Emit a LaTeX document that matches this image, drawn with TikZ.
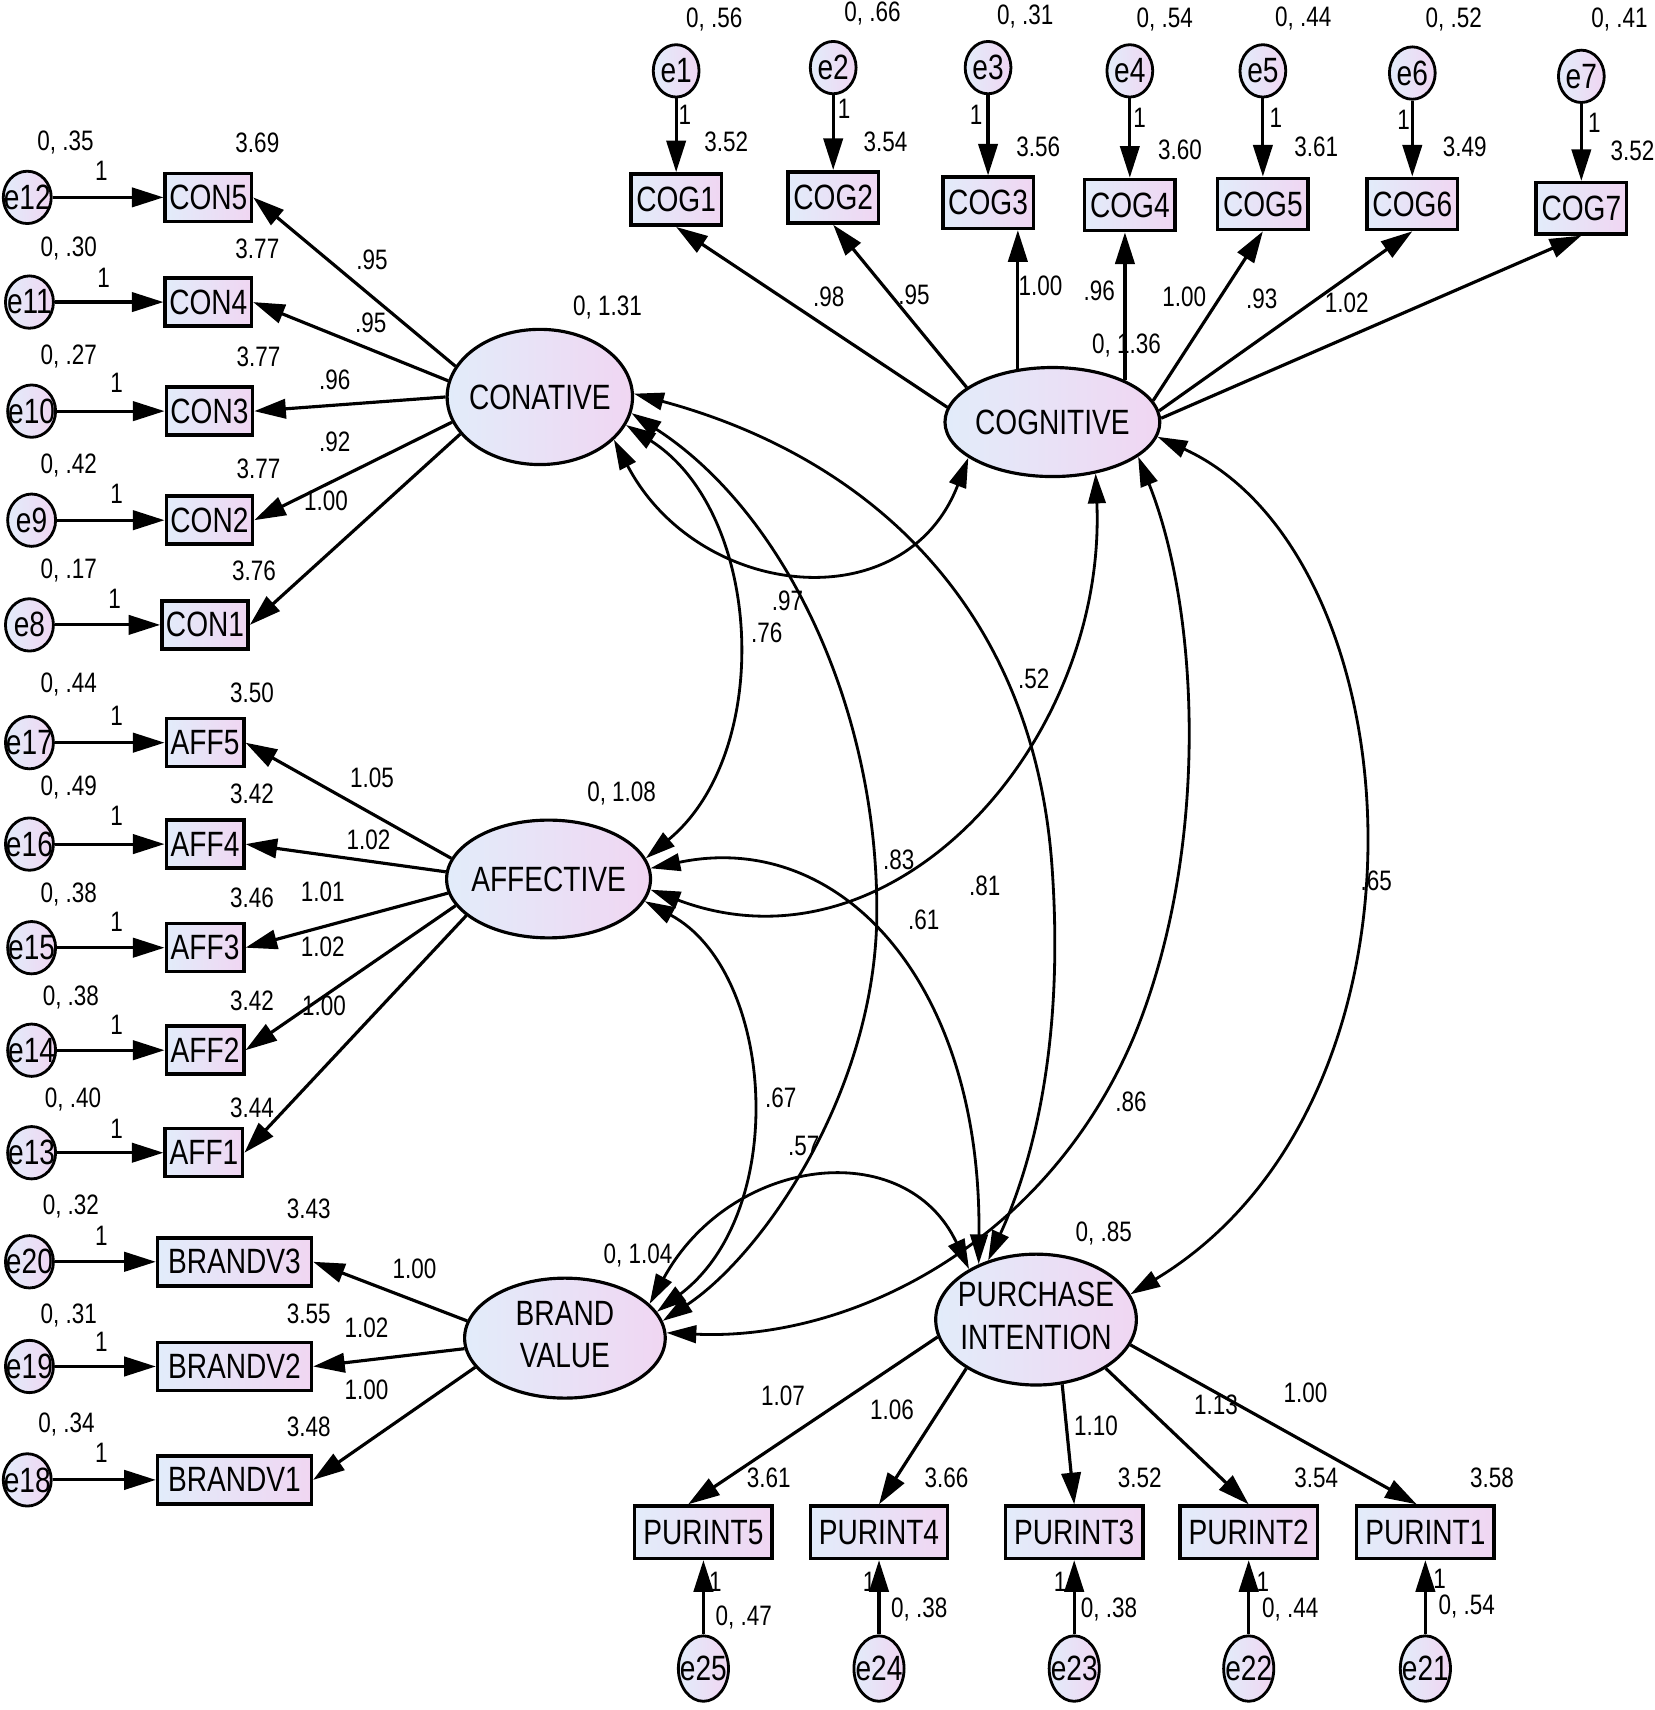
\documentclass[tikz,border=0pt]{standalone}
\usepackage{fontspec}
\setmainfont{Liberation Sans}[FakeStretch=0.8]
\usetikzlibrary{arrows.meta,shapes.geometric}
\definecolor{fillL}{RGB}{226,236,250}
\definecolor{fillR}{RGB}{240,214,242}
\newcommand\pxu{0.010903cm}
\newcounter{lc}
\newcommand\lbl[2]{\stepcounter{lc}\node[num] (L\number\value{lc}) at (#1) {#2};}
\begin{document}
\begin{tikzpicture}[x=0.010903cm,y=-0.010903cm,
  obs/.style={draw, line width=1pt, rectangle, left color=fillL, right color=fillR, inner sep=0pt, font=\fontsize{10}{12}\selectfont},
  err/.style={draw, line width=0.8pt, ellipse, left color=fillL, right color=fillR, inner sep=0pt, font=\fontsize{10}{12}\selectfont},
  lat/.style={draw, line width=0.9pt, ellipse, left color=fillL, right color=fillR, inner sep=0pt, font=\fontsize{10}{12}\selectfont},
  num/.style={font=\fontsize{8}{9.6}\selectfont, inner sep=0pt},
  ld/.style={line width=0.9pt, -{Triangle[length=9pt,width=5.5pt]}},
  ea/.style={line width=0.9pt, -{Triangle[length=9pt,width=5.5pt]}},
  cv/.style={line width=0.8pt, {Triangle[length=8.5pt,width=5pt]}-{Triangle[length=8.5pt,width=5pt]}}
]
\useasboundingbox (0,0) rectangle (1517,1568);

% latent variables
\node[lat, minimum width=170*\pxu, minimum height=124*\pxu] (CON) at (495,364) {\makebox[0pt]{CONATIVE}};
\node[lat, minimum width=197*\pxu, minimum height=100*\pxu] (COG) at (965,387) {\makebox[0pt]{COGNITIVE}};
\node[lat, minimum width=187*\pxu, minimum height=108*\pxu] (AFF) at (503,806) {\makebox[0pt]{AFFECTIVE}};
\node[lat, minimum width=184*\pxu, minimum height=110*\pxu] (BV) at (518,1227) {\makebox[0pt]{\begin{tabular}{@{}c@{}}BRAND\\VALUE\end{tabular}}};
\node[lat, minimum width=184*\pxu, minimum height=120*\pxu] (PI) at (950,1210) {\makebox[0pt]{\begin{tabular}{@{}c@{}}PURCHASE\\INTENTION\end{tabular}}};

% conative indicators
\foreach \b/\e/\ex/\bx/\y/\a in {5/12/25/191/181/160, 4/11/27/191/277/170, 3/10/29/192/377/180, 2/9/29/192/477/196, 1/8/27/188/573/205}{
  \node[err, minimum width=44*\pxu, minimum height=48*\pxu] (e\e) at (\ex,\y) {\makebox[0pt]{e\e}};
  \node[obs, minimum width=79*\pxu, minimum height=44*\pxu] (CON\b) at (\bx,\y) {CON\b};
  \draw[ea] (e\e) -- (CON\b);
  \draw[ld] (CON.\a) -- (CON\b.east);
}
% affective indicators
\foreach \b/\e/\ex/\bx/\y/\a in {5/17/27/188/681/168, 4/16/27/188/774/176, 3/15/29/188/869/188, 2/14/29/188/963/196, 1/13/29/187/1057/204}{
  \node[err, minimum width=44*\pxu, minimum height=48*\pxu] (e\e) at (\ex,\y) {\makebox[0pt]{e\e}};
  \node[obs, minimum width=71*\pxu, minimum height=44*\pxu] (AFF\b) at (\bx,\y) {AFF\b};
  \draw[ea] (e\e) -- (AFF\b);
  \draw[ld] (AFF.\a) -- (AFF\b.east);
}
% brand value indicators
\foreach \b/\e/\ex/\y/\a in {3/20/27/1157/170, 2/19/27/1253/186, 1/18/25/1357/198}{
  \node[err, minimum width=44*\pxu, minimum height=48*\pxu] (e\e) at (\ex,\y) {\makebox[0pt]{e\e}};
  \node[obs, minimum width=141*\pxu, minimum height=44*\pxu] (BV\b) at (215,\y) {BRANDV\b};
  \draw[ea] (e\e) -- (BV\b);
  \draw[ld] (BV.\a) -- (BV\b.east);
}
% cognitive indicators
\foreach \i/\x/\ey/\by in {1/620/65/183, 2/764/62/181, 3/906/62/186, 4/1036/65/188, 5/1158/65/187, 6/1295/67/187, 7/1450/70/191}{
  \node[err, minimum width=42*\pxu, minimum height=48*\pxu] (e\i) at (\x,\ey) {\makebox[0pt]{e\i}};
  \node[obs, minimum width=83*\pxu, minimum height=47*\pxu] (COG\i) at (\x,\by) {COG\i};
  \draw[ea] (e\i) -- (COG\i);
}
\draw[ld] (COG.172) -- (COG1.south);
\draw[ld] (COG.158) -- (COG2.south);
\draw[ld] (COG.123) -- (COG.123 |- COG3.south);
\draw[ld] (COG.30) -- (COG.30 |- COG4.south);
\draw[ld] (COG.12) -- (COG5.south);
\draw[ld] (COG.6) -- (COG6.south);
\draw[ld] (COG.2) -- (COG7.south);

% purchase intention indicators
\foreach \i/\e/\x in {5/25/645, 4/24/806, 3/23/985, 2/22/1145, 1/21/1307}{
  \node[obs, minimum width=126*\pxu, minimum height=48*\pxu] (PUR\i) at (\x,1405) {PURINT\i};
  \node[err, minimum width=46*\pxu, minimum height=60*\pxu] (e\e) at (\x,1530) {\makebox[0pt]{e\e}};
  \draw[ea] (e\e) -- (PUR\i);
}
\draw[ld] (PI.190) -- ([xshift=-14*\pxu]PUR5.north);
\draw[ld] (PI.215) -- (PUR4.north);
\draw[ld] (PI.-68) -- (PUR3.north);
\draw[ld] (PI.-35) -- (PUR2.north);
\draw[ld] (PI.-15) -- ([xshift=-8*\pxu]PUR1.north);

% covariances
\draw[cv] (CON.2) .. controls (800,420) and (950,560) .. (965,800) .. controls (975,950) and (950,1060) .. (PI.129);
\draw[cv] (CON.-10) .. controls (720,470) and (805,650) .. (804,838) .. controls (803,1000) and (700,1150) .. (BV.10);
\draw[cv] (CON.-18) .. controls (700,470) and (710,690) .. (AFF.12);
\draw[cv] (CON.-30) .. controls (640,550) and (830,570) .. (COG.-157);
\draw[cv] (COG.-50) .. controls (1015,680) and (820,900) .. (AFF.-6);
\draw[cv] (AFF.6) .. controls (770,760) and (900,900) .. (PI.136);
\draw[cv] (AFF.-13) .. controls (710,890) and (725,1110) .. (BV.16);
\draw[cv] (BV.22) .. controls (670,1060) and (830,1040) .. (PI.143);
\draw[cv] (COG.-22) .. controls (1100,560) and (1110,780) .. (1040,950) .. controls (960,1140) and (780,1230) .. (BV.3);
\draw[cv] (COG.-8) .. controls (1300,510) and (1330,1010) .. (PI.15);

% left labels
\lbl{60,131}{0, .35}\lbl{93,157}{1}\lbl{236,131}{3.69}
\lbl{63,228}{0, .30}\lbl{95,255}{1}\lbl{236,228}{3.77}
\lbl{63,327}{0, .27}\lbl{107,351}{1}\lbl{237,327}{3.77}
\lbl{63,427}{0, .42}\lbl{107,453}{1}\lbl{237,430}{3.77}
\lbl{63,523}{0, .17}\lbl{105,549}{1}\lbl{233,523}{3.76}
\lbl{63,628}{0, .44}\lbl{107,656}{1}\lbl{231,635}{3.50}
\lbl{63,722}{0, .49}\lbl{107,748}{1}\lbl{231,728}{3.42}
\lbl{63,820}{0, .38}\lbl{107,845}{1}\lbl{231,823}{3.46}
\lbl{65,915}{0, .38}\lbl{107,940}{1}\lbl{231,918}{3.42}
\lbl{67,1008}{0, .40}\lbl{107,1035}{1}\lbl{231,1016}{3.44}
\lbl{65,1106}{0, .32}\lbl{93,1133}{1}\lbl{283,1108}{3.43}
\lbl{63,1206}{0, .31}\lbl{93,1230}{1}\lbl{283,1205}{3.55}
\lbl{61,1306}{0, .34}\lbl{93,1332}{1}\lbl{283,1308}{3.48}
% left loadings
\lbl{341,238}{.95}\lbl{340,296}{.95}\lbl{307,348}{.96}\lbl{307,405}{.92}\lbl{299,459}{1.00}
\lbl{341,713}{1.05}\lbl{338,770}{1.02}\lbl{296,818}{1.01}\lbl{296,868}{1.02}\lbl{297,922}{1.00}
\lbl{380,1163}{1.00}\lbl{336,1218}{1.02}\lbl{336,1274}{1.00}
% latent variances
\lbl{557,282}{0, 1.31}\lbl{1033,317}{0, 1.36}\lbl{570,728}{0, 1.08}\lbl{585,1151}{0, 1.04}\lbl{1012,1131}{0, .85}
% top labels
\lbl{655,18}{0, .56}\lbl{628,105}{1}\lbl{666,130}{3.52}
\lbl{800,12}{0, .66}\lbl{774,100}{1}\lbl{812,130}{3.54}
\lbl{940,15}{0, .31}\lbl{895,105}{1}\lbl{952,135}{3.56}
\lbl{1068,18}{0, .54}\lbl{1045,108}{1}\lbl{1082,137}{3.60}
\lbl{1195,17}{0, .44}\lbl{1170,108}{1}\lbl{1207,135}{3.61}
\lbl{1333,18}{0, .52}\lbl{1287,110}{1}\lbl{1343,135}{3.49}
\lbl{1485,18}{0, .41}\lbl{1462,113}{1}\lbl{1497,138}{3.52}
\lbl{760,272}{.98}\lbl{838,270}{.95}\lbl{954,262}{1.00}\lbl{1008,267}{.96}\lbl{1086,272}{1.00}\lbl{1157,274}{.93}\lbl{1235,278}{1.02}
% bottom labels
\lbl{718,1280}{1.07}\lbl{818,1293}{1.06}\lbl{1005,1307}{1.10}\lbl{1115,1288}{1.13}\lbl{1197,1277}{1.00}
\lbl{705,1355}{3.61}\lbl{868,1355}{3.66}\lbl{1045,1355}{3.52}\lbl{1207,1355}{3.54}\lbl{1368,1355}{3.58}
\lbl{656,1450}{1}\lbl{682,1483}{0, .47}
\lbl{797,1450}{1}\lbl{843,1476}{0, .38}
\lbl{972,1450}{1}\lbl{1017,1476}{0, .38}
\lbl{1158,1450}{1}\lbl{1183,1476}{0, .44}
\lbl{1320,1448}{1}\lbl{1345,1473}{0, .54}
% covariance labels
\lbl{722,551}{.97}\lbl{703,580}{.76}\lbl{948,622}{.52}\lbl{824,788}{.83}\lbl{903,812}{.81}
\lbl{847,843}{.61}\lbl{1262,808}{.65}\lbl{1037,1010}{.86}\lbl{716,1007}{.67}\lbl{737,1051}{.57}
\end{tikzpicture}
\end{document}
